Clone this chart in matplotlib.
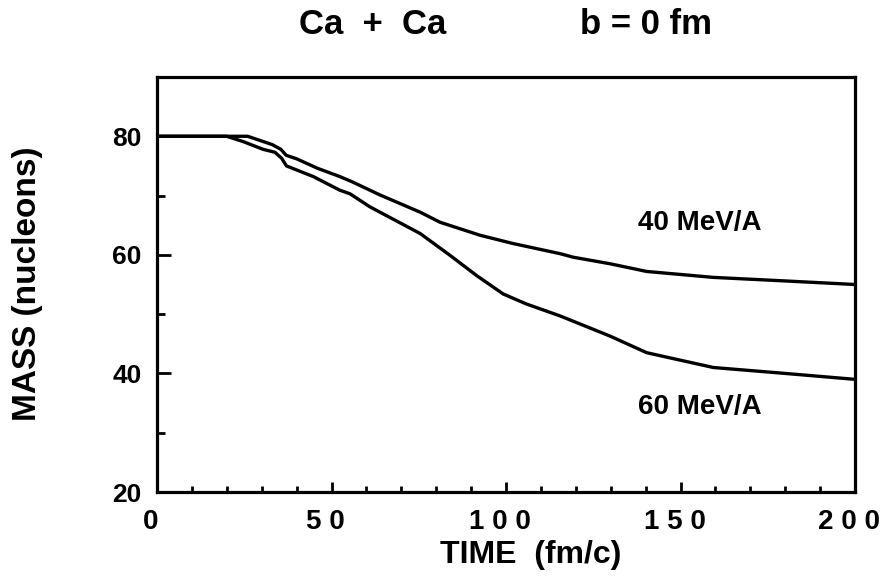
import matplotlib
matplotlib.use("Agg")
import matplotlib.pyplot as plt
import matplotlib.transforms as mtransforms
from matplotlib.ticker import MultipleLocator, FixedLocator

plt.rcParams['font.family'] = ['Liberation Sans', 'DejaVu Sans']
plt.rcParams['font.weight'] = 'bold'

# 40 MeV/A curve
t40 = [0, 20, 26, 30, 33, 35.5, 37, 40, 46, 52.4, 56, 63.9, 75.4, 81.1, 92.6, 102.1, 115.5, 119.3, 129.8, 140.3, 159.4, 180, 200]
m40 = [80, 80, 80, 79.2, 78.6, 77.8, 76.8, 76.2, 74.6, 73.2, 72.3, 70.1, 67.2, 65.5, 63.3, 61.9, 60.2, 59.6, 58.5, 57.2, 56.2, 55.6, 55.0]

# 60 MeV/A curve
t60 = [0, 20, 24.7, 30.4, 33.8, 35.7, 37.1, 44.8, 52.4, 55.3, 61, 75.4, 84, 91.6, 99.2, 105.9, 115.5, 129.8, 140.3, 159.4, 180, 200]
m60 = [80, 80, 79.1, 77.8, 77.3, 76.3, 75.0, 73.2, 70.9, 70.3, 68.1, 63.6, 59.9, 56.5, 53.4, 51.7, 49.7, 46.3, 43.5, 41.0, 40.0, 39.0]

xticks = [0, 50, 100, 150, 200]
xtick_labels = ["0", "5 0", "1 0 0", "1 5 0", "2 0 0"]
yticks = [20, 40, 60, 80]
ytick_labels = ["20", "40", "60", "80"]

fig = plt.figure(figsize=(8.85, 5.83), dpi=100)
ax = fig.add_axes([157/885, 91/583, (855-157)/885, (492-77)/583])

ax.plot(t40, m40, color='black', lw=2.4, solid_joinstyle='round')
ax.plot(t60, m60, color='black', lw=2.4, solid_joinstyle='round')

ax.set_xlim(0, 200)
ax.set_ylim(20, 90)

for s in ax.spines.values():
    s.set_linewidth(2.3)

ax.xaxis.set_major_locator(FixedLocator(xticks))
ax.set_xticklabels(xtick_labels)
ax.xaxis.set_minor_locator(MultipleLocator(10))
ax.yaxis.set_major_locator(FixedLocator(yticks))
ax.set_yticklabels(ytick_labels)
ax.yaxis.set_minor_locator(FixedLocator([30, 50, 70]))

ax.tick_params(axis='x', which='major', direction='in', length=7, width=2, pad=12, labelsize=20, top=False)
ax.tick_params(axis='x', which='minor', direction='in', length=4, width=2, top=False)
ax.tick_params(axis='y', which='major', direction='in', length=10, width=2, pad=11, labelsize=19, right=False)
ax.tick_params(axis='y', which='minor', direction='in', length=6, width=2, right=False)

offset = mtransforms.ScaledTranslation(-6/100, 0, fig.dpi_scale_trans)
for lab in ax.get_xticklabels():
    lab.set_fontweight('bold')
    lab.set_transform(lab.get_transform() + offset)
for lab in ax.get_yticklabels():
    lab.set_fontweight('bold')

ax.text(137.8, 65.3, "40 MeV/A", fontsize=20, fontweight='bold', ha='left', va='center')
ax.text(137.8, 34.4, "60 MeV/A", fontsize=20, fontweight='bold', ha='left', va='center')

fig.text(373/885, 1 - 25/583, "Ca  +  Ca", fontsize=25, fontweight='bold', ha='center', va='center')
fig.text(646/885, 1 - 25/583, "b = 0 fm", fontsize=25, fontweight='bold', ha='center', va='center')
fig.text(531/885, 1 - 555/583, "TIME  (fm/c)", fontsize=23, fontweight='bold', ha='center', va='center')
fig.text(28/885, 1 - 284/583, "MASS (nucleons)", fontsize=24, fontweight='bold', ha='center', va='center', rotation=90)

fig.savefig("out.png", dpi=100)
